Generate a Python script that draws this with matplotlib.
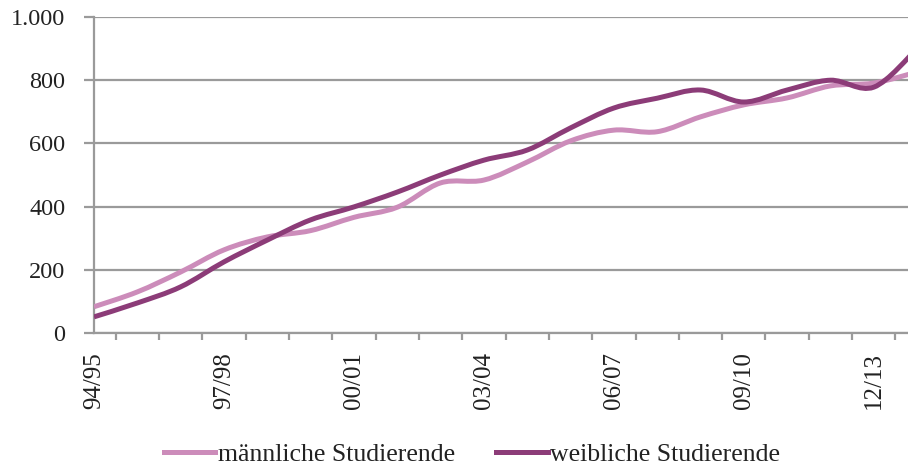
import matplotlib

matplotlib.use("Agg")
import matplotlib.pyplot as plt  # noqa: E402
from matplotlib.lines import Line2D  # noqa: E402
from matplotlib.patches import PathPatch  # noqa: E402
from matplotlib.path import Path  # noqa: E402
from matplotlib.ticker import FuncFormatter  # noqa: E402

semesters = [
    "94/95", "95/96", "96/97", "97/98", "98/99", "99/00", "00/01", "01/02",
    "02/03", "03/04", "04/05", "05/06", "06/07", "07/08", "08/09", "09/10",
    "10/11", "11/12", "12/13", "13/14",
]
maennlich = [83, 130, 193, 263, 304, 324, 366, 398, 475, 484, 541, 608,
             642, 637, 684, 722, 744, 782, 791, 826]
weiblich = [51, 95, 146, 225, 294, 358, 399, 446, 500, 547, 579, 649,
            712, 743, 769, 731, 769, 800, 778, 900]
y_ticks = [0, 200, 400, 600, 800, 1000]

LIGHT = "#CC8CBA"
DARK = "#8C3C78"
GRID = "#9A9A9A"
TEXT = "#222222"

plt.rcParams["font.family"] = ["Liberation Serif", "DejaVu Serif"]


def smooth_path(xs, ys):
    # Excel-style smoothed line: cubic bezier through every point
    pts = list(zip(xs, ys))
    verts = [pts[0]]
    codes = [Path.MOVETO]
    n = len(pts)
    for i in range(n - 1):
        p0 = pts[i - 1] if i > 0 else pts[i]
        p1 = pts[i]
        p2 = pts[i + 1]
        p3 = pts[i + 2] if i + 2 < n else pts[i + 1]
        c1 = (p1[0] + (p2[0] - p0[0]) / 6, p1[1] + (p2[1] - p0[1]) / 6)
        c2 = (p2[0] - (p3[0] - p1[0]) / 6, p2[1] - (p3[1] - p1[1]) / 6)
        verts += [c1, c2, p2]
        codes += [Path.CURVE4] * 3
    return Path(verts, codes)


fig = plt.figure(figsize=(9.08, 4.70), dpi=100)
ax = fig.add_axes([0.1035, 0.2915, 0.8965, 0.6723])

x = list(range(len(semesters)))
for values, color in [(maennlich, LIGHT), (weiblich, DARK)]:
    patch = PathPatch(smooth_path(x, values), fill=False, edgecolor=color,
                      linewidth=3.6, capstyle="butt", joinstyle="round", zorder=3)
    ax.add_patch(patch)

ax.set_xlim(0, 18.79)
ax.set_ylim(0, 1000)

ax.set_yticks(y_ticks)
ax.yaxis.set_major_formatter(FuncFormatter(lambda v, _: f"{int(v):,}".replace(",", ".")))
ax.grid(axis="y", color=GRID, linewidth=1.6, zorder=1)
ax.tick_params(axis="y", length=7.5, width=1.6, color=GRID, pad=13,
               labelsize=17.5, labelcolor=TEXT)

ax.set_xticks(x[::3])
ax.set_xticklabels(semesters[::3], rotation=90, fontsize=18, color=TEXT)
ax.set_xticks([i + 0.5 for i in range(len(semesters) - 1)], minor=True)
ax.tick_params(axis="x", which="major", length=0, pad=14)
ax.tick_params(axis="x", which="minor", length=5, width=1.6, color=GRID)

for side in ("top", "right"):
    ax.spines[side].set_visible(False)
for side in ("left", "bottom"):
    ax.spines[side].set_color(GRID)
    ax.spines[side].set_linewidth(1.6)

handles = [Line2D([], [], color=LIGHT, linewidth=3.6),
           Line2D([], [], color=DARK, linewidth=3.6)]
fig.legend(handles, ["männliche Studierende", "weibliche Studierende"],
           loc="lower center", bbox_to_anchor=(0.52, -0.04), ncol=2, frameon=False,
           fontsize=18.5, handlelength=2.0, handletextpad=0.1, columnspacing=1.6,
           labelcolor=TEXT)

fig.savefig("out.png", dpi=100, facecolor="white")
